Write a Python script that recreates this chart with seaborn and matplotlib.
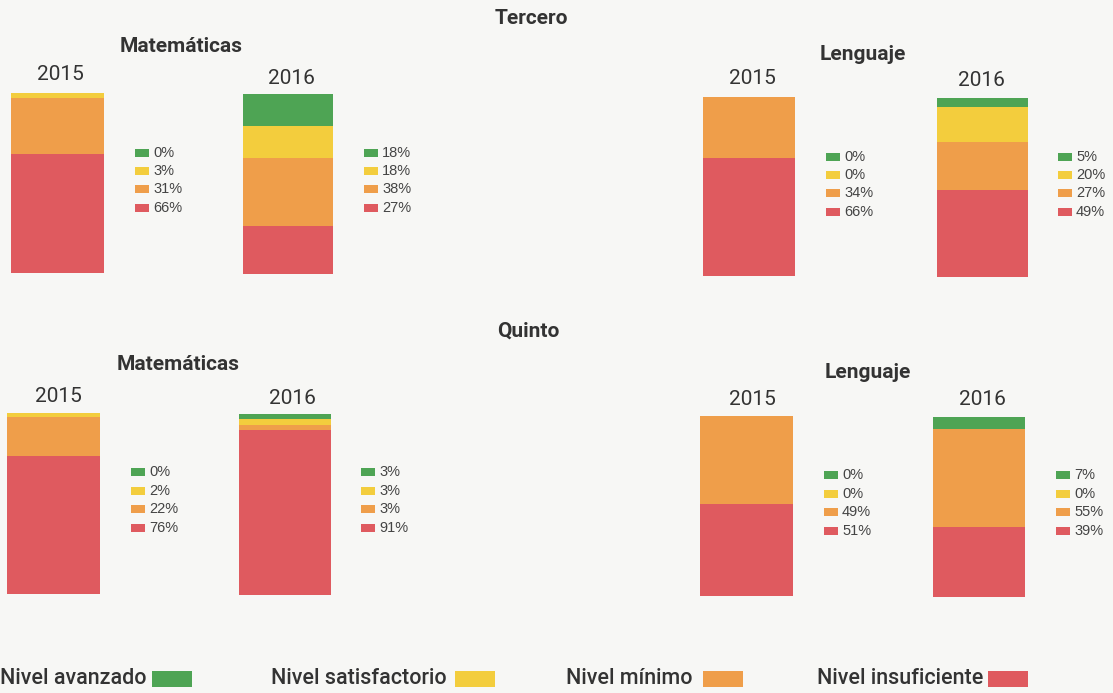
import matplotlib
matplotlib.use("Agg")
import matplotlib.pyplot as plt
from matplotlib.patches import Rectangle
import seaborn as sns
import pandas as pd

# ---------------- data ----------------
levels = ["Nivel avanzado", "Nivel satisfactorio", "Nivel mínimo", "Nivel insuficiente"]
level_colors = ["#4ea454", "#f3cd3d", "#ef9e4a", "#df5a5f"]
years = ["2015", "2016"]
grades = ["Tercero", "Quinto"]
subjects = ["Matemáticas", "Lenguaje"]

# values listed top-to-bottom: avanzado, satisfactorio, mínimo, insuficiente
tercero_mat_2015 = [0, 3, 31, 66]
tercero_mat_2016 = [18, 18, 38, 27]
tercero_len_2015 = [0, 0, 34, 66]
tercero_len_2016 = [5, 20, 27, 49]
quinto_mat_2015 = [0, 2, 22, 76]
quinto_mat_2016 = [3, 3, 3, 91]
quinto_len_2015 = [0, 0, 49, 51]
quinto_len_2016 = [7, 0, 55, 39]

values = {
    ("Tercero", "Matemáticas", "2015"): tercero_mat_2015,
    ("Tercero", "Matemáticas", "2016"): tercero_mat_2016,
    ("Tercero", "Lenguaje", "2015"): tercero_len_2015,
    ("Tercero", "Lenguaje", "2016"): tercero_len_2016,
    ("Quinto", "Matemáticas", "2015"): quinto_mat_2015,
    ("Quinto", "Matemáticas", "2016"): quinto_mat_2016,
    ("Quinto", "Lenguaje", "2015"): quinto_len_2015,
    ("Quinto", "Lenguaje", "2016"): quinto_len_2016,
}

# ---------------- layout (pixels) ----------------
W, H = 1113, 693
BG = "#f7f7f5"
TXT = "#333333"

sns.set_theme(style="white")
plt.rcParams["font.family"] = ["Roboto", "DejaVu Sans"]

fig = plt.figure(figsize=(W / 100, H / 100), dpi=100, facecolor=BG)


def fx(x):
    return x / W


def fy(y):
    return 1 - y / H


# bar boxes: x0, x1, ytop, ybottom ; year label (cx, cy) ; legend square x, text x, first row y, row step
layout = {
    ("Tercero", "Matemáticas", "2015"): dict(box=(11, 104, 93, 273), year=(60, 75), leg=(135, 153, 153, 18.2)),
    ("Tercero", "Matemáticas", "2016"): dict(box=(243, 333, 94, 274), year=(291, 79), leg=(364, 382, 153, 18.2)),
    ("Tercero", "Lenguaje", "2015"): dict(box=(703, 795, 97, 276), year=(752, 78), leg=(826, 844, 157, 18.2)),
    ("Tercero", "Lenguaje", "2016"): dict(box=(937, 1028, 98, 277), year=(981, 80), leg=(1058, 1076, 157, 18.2)),
    ("Quinto", "Matemáticas", "2015"): dict(box=(7, 100, 413, 594), year=(58, 396), leg=(131, 149, 472, 18.6)),
    ("Quinto", "Matemáticas", "2016"): dict(box=(239, 331, 414, 595), year=(292, 398), leg=(361, 379, 472, 18.6)),
    ("Quinto", "Lenguaje", "2015"): dict(box=(700, 793, 416, 596), year=(752, 399), leg=(824, 842, 475, 18.6)),
    ("Quinto", "Lenguaje", "2016"): dict(box=(933, 1025, 417, 597), year=(982, 400), leg=(1056, 1074, 475, 18.6)),
}

grade_titles = {"Tercero": (531, 19), "Quinto": (528, 331)}
subject_titles = {
    ("Tercero", "Matemáticas"): (181, 47),
    ("Tercero", "Lenguaje"): (863, 54),
    ("Quinto", "Matemáticas"): (178, 365),
    ("Quinto", "Lenguaje"): (868, 373),
}

for key, vals in values.items():
    lay = layout[key]
    x0, x1, yt, yb = lay["box"]
    ax = fig.add_axes([fx(x0), fy(yb), (x1 - x0) / W, (yb - yt) / H])
    ax.set_facecolor("none")
    total = sum(vals)
    # cumulative heights from bottom (insuficiente) upward
    bottom_up = list(reversed(vals))
    cols_bottom_up = list(reversed(level_colors))
    cums = []
    c = 0
    for v in bottom_up:
        c += v
        cums.append(c)
    # draw tallest first so that lower segments overlay
    for cum, col in reversed(list(zip(cums, cols_bottom_up))):
        df = pd.DataFrame({"year": [key[2]], "cum": [cum]})
        sns.barplot(data=df, x="year", y="cum", color=col, saturation=1,
                    width=1.0, linewidth=0, ax=ax)
    ax.set_xlim(-0.5, 0.5)
    ax.set_ylim(0, total)
    ax.axis("off")

    # year label
    cx, cy = lay["year"]
    fig.text(fx(cx), fy(cy), key[2], ha="center", va="center",
             fontsize=15, color=TXT, family=["Roboto", "DejaVu Sans"])

    # per-bar legend with percentages
    sqx, tx, ry, step = lay["leg"]
    for i, (v, col) in enumerate(zip(vals, level_colors)):
        yy = ry + i * step
        fig.add_artist(Rectangle((fx(sqx), fy(yy + 4)), 14 / W, 8 / H,
                                 transform=fig.transFigure, facecolor=col,
                                 edgecolor="none"))
        fig.text(fx(tx), fy(yy), f"{v}%", ha="left", va="center",
                 fontsize=10.5, color="#444444",
                 family=["Liberation Sans", "DejaVu Sans"])

for g, (cx, cy) in grade_titles.items():
    fig.text(fx(cx), fy(cy), g, ha="center", va="center", fontsize=15,
             fontweight="bold", color=TXT)

for (g, s), (cx, cy) in subject_titles.items():
    fig.text(fx(cx), fy(cy), s, ha="center", va="center", fontsize=15,
             fontweight="bold", color=TXT)

# bottom legend: text right-aligned, colour square after it
legend_pos = [(147, 152), (447, 455), (693, 703), (983, 988)]
for lab, col, (tx_end, sq_x) in zip(levels, level_colors, legend_pos):
    fig.text(fx(tx_end), fy(679), lab, ha="right", va="center", fontsize=15.5,
             fontweight="medium", color=TXT)
    fig.add_artist(Rectangle((fx(sq_x), fy(687)), 40 / W, 16 / H,
                             transform=fig.transFigure, facecolor=col,
                             edgecolor="none"))

fig.savefig("out.png", dpi=100, facecolor=BG)
